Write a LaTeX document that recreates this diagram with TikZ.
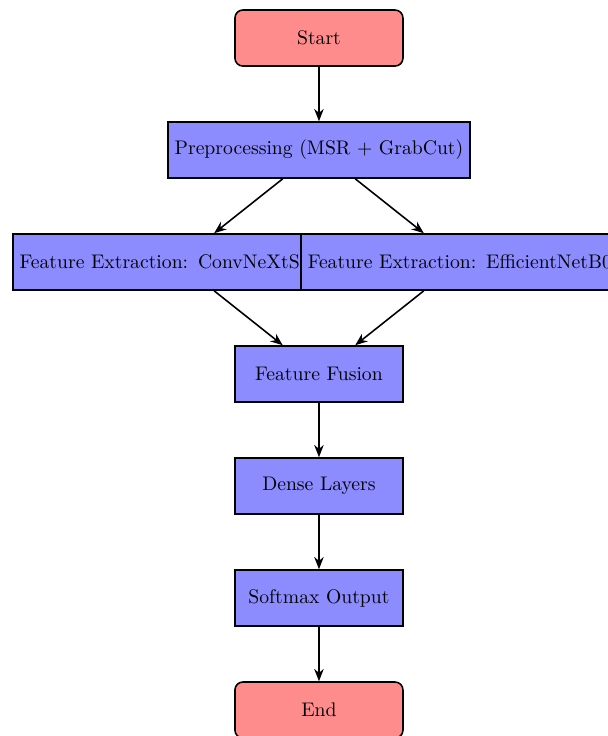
\documentclass[tikz,border=0pt]{standalone}
\usetikzlibrary{arrows.meta}
\begin{document}
\begin{tikzpicture}[
  startstop/.style={rectangle, rounded corners, minimum width=3cm, minimum height=1cm, draw=black, fill=red!45, text centered, thick},
  process/.style={rectangle, minimum width=3cm, minimum height=1cm, draw=black, fill=blue!45, text centered, thick},
  wideproc/.style={process, align=left},
  arrow/.style={thick, -{Stealth[length=2.2mm,width=1.7mm]}}
]
\useasboundingbox (-5.696,0.679) rectangle (5.161,-12.464);
\node[startstop] (start) at (0,0) {Start};
\node[process] (pre) at (0,-2) {Preprocessing (MSR + GrabCut)};
\node[wideproc, text width=5.65cm] (conv) at (-2.52,-4) {Feature Extraction: ConvNeXtS};
\node[wideproc, text width=5.44cm] (eff) at (2.52,-4) {Feature Extraction: EfficientNetB0};
\node[process] (fus) at (0,-6) {Feature Fusion};
\node[process] (dense) at (0,-8) {Dense Layers};
\node[process] (soft) at (0,-10) {Softmax Output};
\node[startstop] (end) at (0,-12) {End};
\draw[arrow] (start) -- (pre);
\draw[arrow] (pre) -- (conv);
\draw[arrow] (pre) -- (eff);
\draw[arrow] (conv) -- (fus);
\draw[arrow] (eff) -- (fus);
\draw[arrow] (fus) -- (dense);
\draw[arrow] (dense) -- (soft);
\draw[arrow] (soft) -- (end);
\end{tikzpicture}
\end{document}
